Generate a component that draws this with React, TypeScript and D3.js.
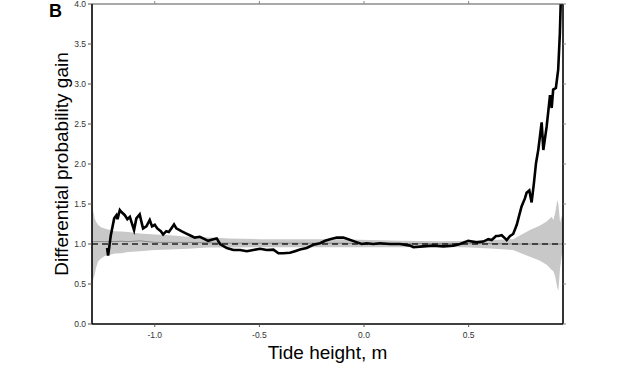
import React from "react";
import * as d3 from "d3";

// ---- Data ----
const xTicks = [-1.0, -0.5, 0.0, 0.5];
const xTickLabels = ["-1.0", "-0.5", "0.0", "0.5"];
const yTicks = [0, 0.5, 1.0, 1.5, 2.0, 2.5, 3.0, 3.5, 4.0];
const yTickLabels = ["0.0", "0.5", "1.0", "1.5", "2.0", "2.5", "3.0", "3.5", "4.0"];

// Confidence envelope (randomised catalogues)
const bandX = [-1.3, -1.295, -1.287, -1.281, -1.271, -1.257, -1.239, -1.223, -1.191, -1.161, -1.128, -1.07, -1.0, -0.927, -0.841, -0.745, -0.64, -0.497, -0.306, -0.115, 0.029, 0.172, 0.363, 0.506, 0.602, 0.712, 0.793, 0.841, 0.873, 0.897, 0.905, 0.913, 0.924, 0.929, 0.937, 0.945, 0.951];
const bandUpper = [1.51, 1.42, 1.32, 1.28, 1.24, 1.21, 1.195, 1.18, 1.16, 1.155, 1.15, 1.13, 1.12, 1.11, 1.09, 1.08, 1.07, 1.06, 1.06, 1.06, 1.05, 1.04, 1.035, 1.04, 1.05, 1.06, 1.175, 1.23, 1.28, 1.34, 1.3, 1.38, 1.55, 1.5, 1.27, 1.35, 1.3];
const bandLower = [0.45, 0.55, 0.62, 0.7, 0.78, 0.82, 0.85, 0.86, 0.88, 0.885, 0.9, 0.91, 0.925, 0.93, 0.94, 0.955, 0.955, 0.96, 0.96, 0.96, 0.96, 0.96, 0.965, 0.955, 0.945, 0.925, 0.84, 0.79, 0.74, 0.675, 0.66, 0.6, 0.45, 0.42, 0.7, 0.85, 0.9];
const meanLine = [1.03, 1.03, 1.03, 1.03, 1.03, 1.03, 1.03, 1.03, 1.03, 1.035, 1.03, 1.04, 1.02, 1.02, 1.02, 1.015, 1.01, 1.01, 1.01, 1.01, 1.005, 1.005, 1.005, 1.005, 1.005, 1.0, 1.0, 1.0, 1.0, 1.0, 1.0, 1.0, 1.0, 1.0, 1.0, 1.0, 1.0];

// Observed differential probability gain
const curveX = [-1.228, -1.223, -1.21, -1.194, -1.183, -1.178, -1.167, -1.159, -1.143, -1.131, -1.119, -1.112, -1.099, -1.088, -1.072, -1.064, -1.056, -1.04, -1.024, -1.013, -1.0, -0.988, -0.971, -0.96, -0.945, -0.933, -0.921, -0.908, -0.897, -0.873, -0.849, -0.825, -0.809, -0.785, -0.769, -0.745, -0.72, -0.704, -0.688, -0.656, -0.624, -0.592, -0.56, -0.529, -0.497, -0.465, -0.433, -0.409, -0.386, -0.354, -0.33, -0.306, -0.274, -0.242, -0.21, -0.186, -0.162, -0.13, -0.099, -0.075, -0.043, -0.011, 0.013, 0.044, 0.076, 0.124, 0.172, 0.22, 0.236, 0.283, 0.331, 0.379, 0.427, 0.459, 0.498, 0.538, 0.57, 0.594, 0.61, 0.631, 0.642, 0.658, 0.674, 0.682, 0.698, 0.713, 0.73, 0.742, 0.753, 0.769, 0.777, 0.79, 0.801, 0.812, 0.822, 0.833, 0.849, 0.857, 0.873, 0.889, 0.897, 0.904, 0.917, 0.928, 0.936, 0.94];
const curveY = [0.95, 0.855, 1.11, 1.32, 1.36, 1.31, 1.425, 1.4, 1.36, 1.31, 1.34, 1.28, 1.175, 1.32, 1.37, 1.28, 1.195, 1.22, 1.3, 1.22, 1.24, 1.195, 1.16, 1.12, 1.16, 1.15, 1.195, 1.245, 1.195, 1.16, 1.13, 1.1, 1.08, 1.09, 1.07, 1.04, 1.06, 1.07, 1.0, 0.95, 0.925, 0.925, 0.91, 0.925, 0.94, 0.925, 0.93, 0.885, 0.885, 0.89, 0.91, 0.93, 0.95, 0.99, 1.01, 1.04, 1.06, 1.08, 1.08, 1.06, 1.03, 1.0, 1.01, 1.0, 1.01, 1.0, 1.0, 0.98, 0.96, 0.97, 0.98, 0.97, 0.98, 1.0, 1.04, 1.02, 1.03, 1.06, 1.05, 1.1, 1.1, 1.11, 1.07, 1.05, 1.1, 1.125, 1.24, 1.36, 1.47, 1.57, 1.64, 1.67, 1.52, 1.76, 2.01, 2.18, 2.52, 2.175, 2.47, 2.86, 2.7, 2.93, 2.95, 3.18, 3.63, 4.0];

const xDomain = [-1.3, 0.951];
const yDomain = [0, 4];

export default function App() {
  const W = 620, H = 377;
  const left = 92, right = 563, top = 4, bottom = 324;
  const x = d3.scaleLinear().domain(xDomain).range([left, right]);
  const y = d3.scaleLinear().domain(yDomain).range([bottom, top]);

  const bandIdx = bandX.map((_, i) => i);
  const area = d3.area<number>()
    .x((i) => x(bandX[i]))
    .y0((i) => y(bandLower[i]))
    .y1((i) => y(bandUpper[i]));
  const meanPath = d3.line<number>().x((i) => x(bandX[i])).y((i) => y(meanLine[i]));
  const curvePath = d3.line<number>()
    .x((i) => x(curveX[i]))
    .y((i) => y(curveY[i]));

  const font = "'Liberation Sans', Arial, sans-serif";

  return (
    <svg width={W} height={H} style={{ position: "absolute", left: 0, top: 0, background: "#fff" }} fontFamily={font}>
      <rect x={0} y={0} width={W} height={H} fill="#fff" />
      <defs>
        <clipPath id="plotclip">
          <rect x={left} y={top} width={right - left} height={bottom - top} />
        </clipPath>
      </defs>
      <g clipPath="url(#plotclip)">
        <path d={area(bandIdx) || ""} fill="#c8c8c8" stroke="none" />
        <path d={meanPath(bandIdx) || ""} fill="none" stroke="#8a8a8a" strokeWidth={1} />
        <line x1={left} x2={right} y1={y(1)} y2={y(1)} stroke="#222" strokeWidth={1.3} strokeDasharray="6,4" />
        <path d={curvePath(curveX.map((_, i) => i)) || ""} fill="none" stroke="#000" strokeWidth={2.6} strokeLinejoin="miter" />
      </g>

      {/* frame */}
      <line x1={left} x2={right} y1={top} y2={top} stroke="#555" strokeWidth={1.2} />
      <line x1={left} x2={right} y1={bottom} y2={bottom} stroke="#000" strokeWidth={1.6} />
      <line x1={left} x2={left} y1={top} y2={bottom} stroke="#000" strokeWidth={1.6} />
      <line x1={right} x2={right} y1={top} y2={bottom} stroke="#000" strokeWidth={1.6} />

      {/* x ticks */}
      {xTicks.map((t, i) => (
        <g key={"xt" + i}>
          <line x1={x(t)} x2={x(t)} y1={bottom} y2={bottom + 3} stroke="#555" strokeWidth={1} />
          <line x1={x(t)} x2={x(t)} y1={top} y2={top - 3} stroke="#888" strokeWidth={1} />
          <text x={x(t)} y={bottom + 14} fontSize={8.5} fill="#333" textAnchor="middle">{xTickLabels[i]}</text>
        </g>
      ))}
      {/* y ticks */}
      {yTicks.map((t, i) => (
        <g key={"yt" + i}>
          <line x1={left - 4} x2={left} y1={y(t)} y2={y(t)} stroke="#555" strokeWidth={1} />
          <line x1={right} x2={right + 3} y1={y(t)} y2={y(t)} stroke="#888" strokeWidth={1} />
          <text x={left - 6} y={y(t) + 3} fontSize={8.5} fill="#333" textAnchor="end">{yTickLabels[i]}</text>
        </g>
      ))}

      <text x={(left + right) / 2} y={359} fontSize={19} textAnchor="middle" fill="#000">Tide height, m</text>
      <text transform={`translate(68, ${(top + bottom) / 2}) rotate(-90)`} fontSize={19} textAnchor="middle" fill="#000">Differential probability gain</text>
      <text x={49} y={17} fontSize={18} fontWeight="bold" fill="#000">B</text>
    </svg>
  );
}
